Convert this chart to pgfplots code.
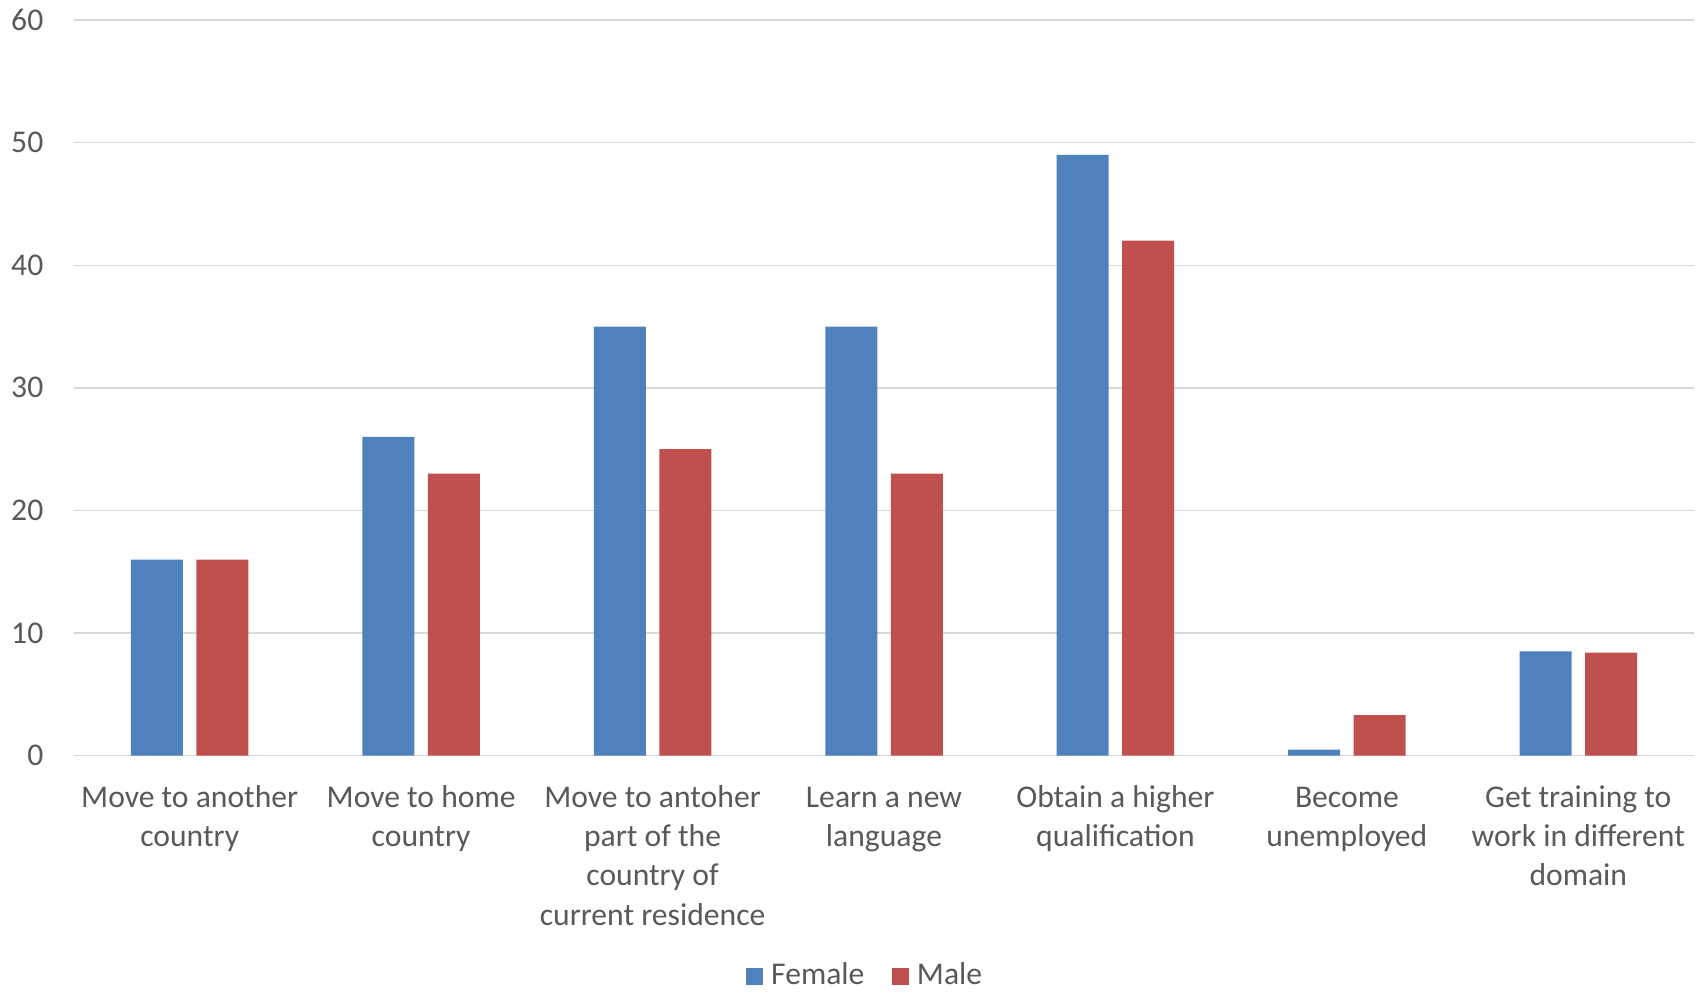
\documentclass[border=0pt]{standalone}
\usepackage{fontspec}
\setmainfont{Carlito}
\usepackage{pgfplots}
\pgfplotsset{compat=1.18}
\definecolor{fem}{HTML}{4F81BD}
\definecolor{mal}{HTML}{C0504D}
\definecolor{txt}{HTML}{595959}
\definecolor{grd}{HTML}{D9D9D9}
\newcommand{\lblfont}{\fontsize{9}{11.2}\selectfont}
\begin{document}
\begin{tikzpicture}
\useasboundingbox (-7.4mm,-23.83mm) rectangle (163mm,75.57mm);
\begin{axis}[
  at={(0,0)}, anchor=south west, scale only axis,
  width=162mm, height=73.57mm,
  xmin=-0.5, xmax=6.5, ymin=0, ymax=60,
  ytick={0,10,...,60},
  xtick={0,...,6},
  xticklabels={{\strut Move to another\\country},{\strut Move to home\\country},{\strut Move to antoher\\part of the\\country of\\current residence},{\strut Learn a new\\language},{\strut Obtain a higher\\qualification},{\strut Become\\unemployed},{\strut Get training to\\work in different\\domain}},
  ybar=1.35mm, bar width=5.2mm,
  axis line style={draw=none},
  major tick length=0pt, tick style={draw=none},
  ymajorgrids, major grid style={grd, line width=0.4pt},
  /pgf/number format/assume math mode=true,
  yticklabel style={anchor=east, inner sep=0pt, xshift=-3.0mm, font=\lblfont, text=txt},
  xticklabel style={align=center, anchor=north, inner sep=0pt, yshift=-2.33mm, font=\lblfont, text=txt},
  legend style={at={(0.489,-0.300)}, anchor=center, draw=none, fill=none, legend columns=2,
    font=\lblfont, text=txt, inner sep=0pt, nodes={inner sep=0.4mm},
    /tikz/every even column/.append style={column sep=2.35mm},
    /tikz/every odd column/.append style={column sep=0.4mm}},
  legend image code/.code={\fill[#1] (0mm,-0.85mm) rectangle (1.7mm,0.85mm);},
]
\addplot[fill=fem, draw=none] coordinates {(0,16) (1,26) (2,35) (3,35) (4,49) (5,0.5) (6,8.5)};
\addplot[fill=mal, draw=none] coordinates {(0,16) (1,23) (2,25) (3,23) (4,42) (5,3.3) (6,8.4)};
\legend{Female,Male}
\end{axis}
\end{tikzpicture}
\end{document}
